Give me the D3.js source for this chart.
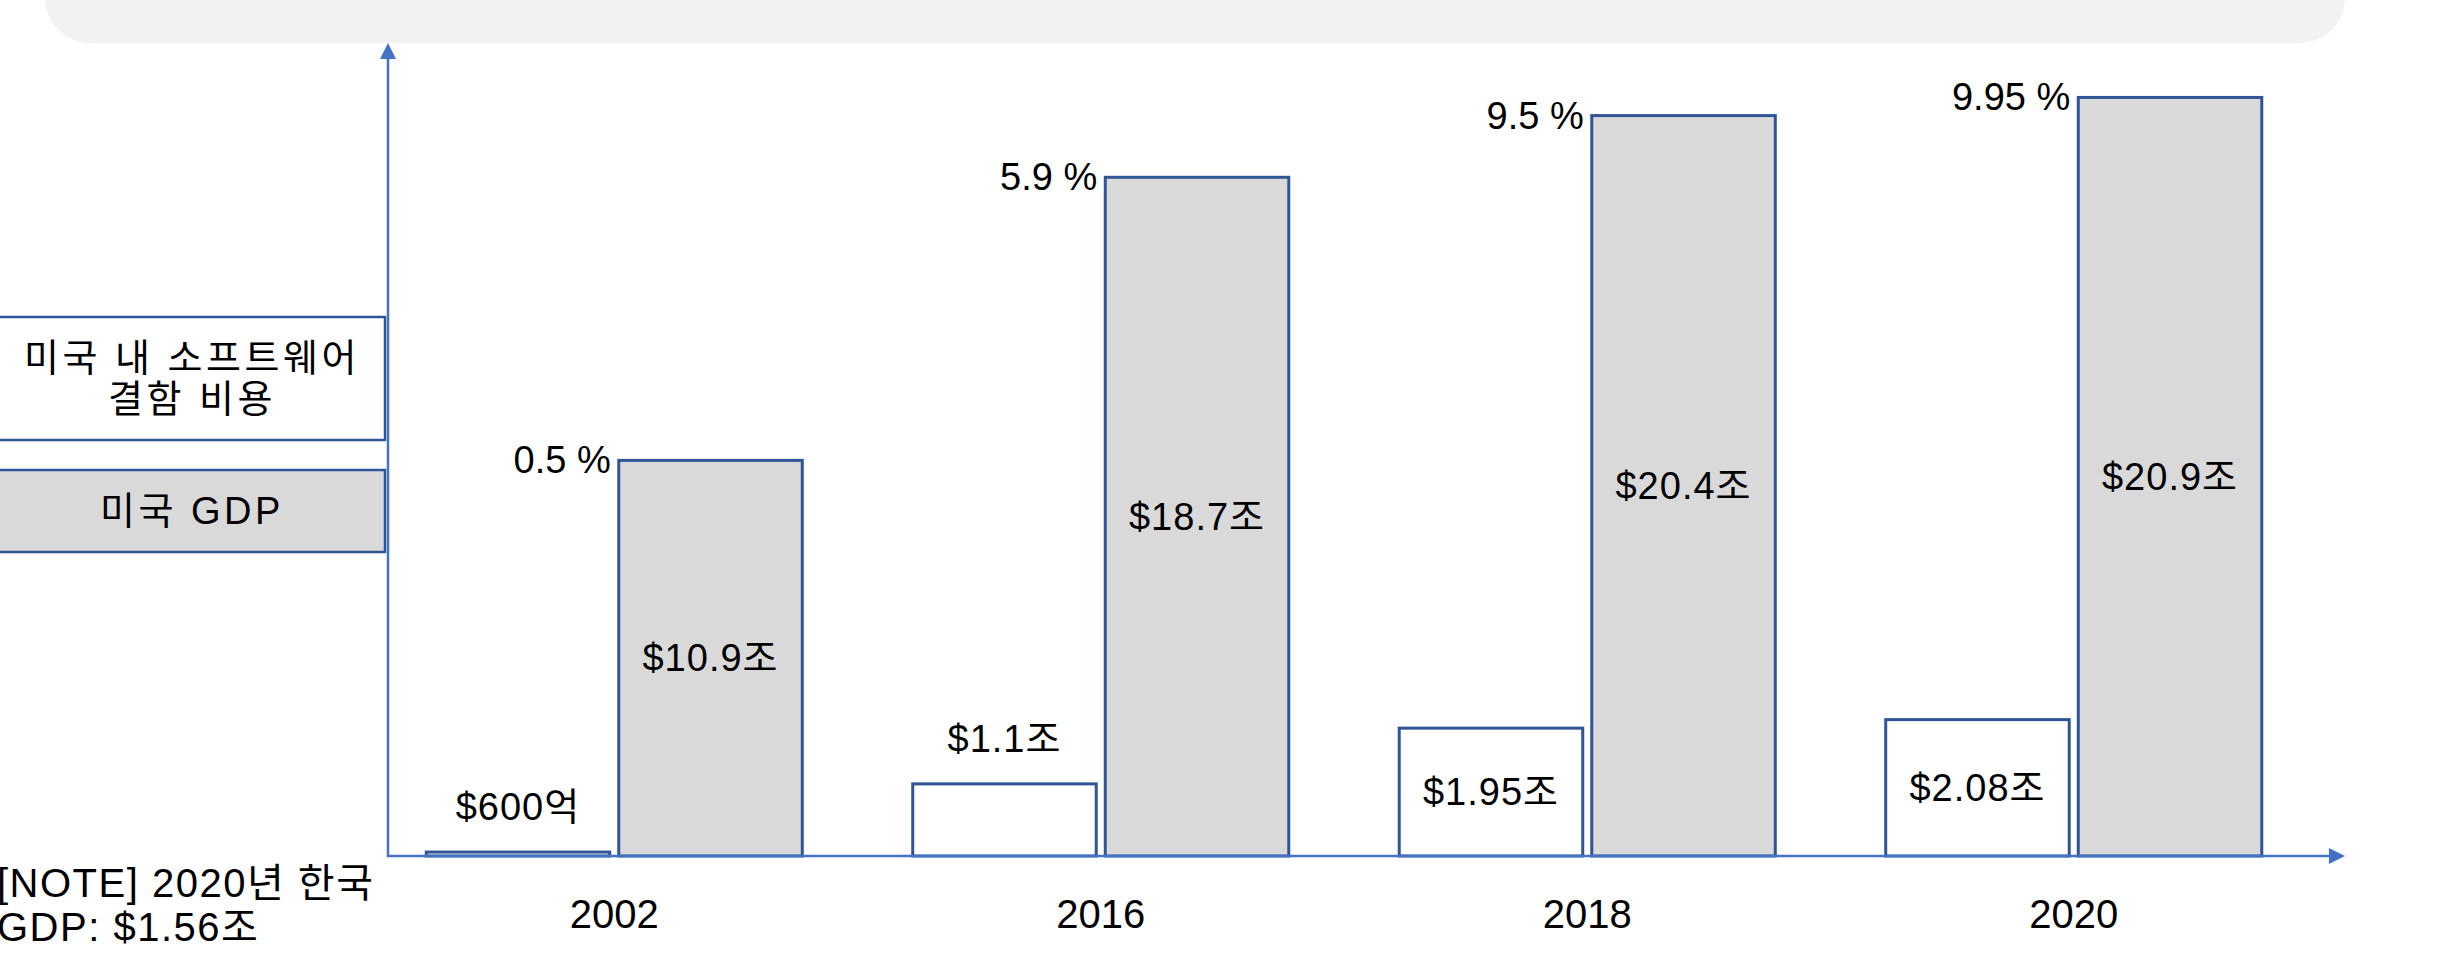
<!DOCTYPE html>
<html>
<head>
<meta charset="utf-8">
<title>미국 소프트웨어 결함 비용과 GDP</title>
<script src="https://cdn.jsdelivr.net/npm/d3@7"></script>
<style>
  html, body { margin: 0; padding: 0; background: #fff; }
  svg { display: block; }
  text { font-family: "Liberation Sans", "Noto Sans CJK KR", sans-serif; fill: #000; }
</style>
</head>
<body>
<svg class="js-graph"></svg>
<script>
/* <DATASET> */
var years = ['2002', '2016', '2018', '2020'];
// 미국 내 소프트웨어 결함 비용 (조 달러)
var defectCost = [0.06, 1.1, 1.95, 2.08];
// 미국 GDP (조 달러)
var usGdp = [10.9, 18.7, 20.4, 20.9];
var costLabels = ['$600억', '$1.1조', '$1.95조', '$2.08조'];
var gdpLabels = ['$10.9조', '$18.7조', '$20.4조', '$20.9조'];
var shareLabels = ['0.5 %', '5.9 %', '9.5 %', '9.95 %'];
var legendLabels = [['미국 내 소프트웨어', '결함 비용'], ['미국 GDP']];
var noteLines = ['[NOTE] 2020년 한국', 'GDP: $1.56조'];
/* </DATASET> */

(function drawChart(d3) {
  var width = 2446;
  var height = 965;
  var axisColor = '#4472C4';
  var barStroke = '#2F5597';
  var fontSize = 38;

  // plot frame
  var x0 = 388;     // y axis position
  var xEnd = 2345;  // tip of x axis arrow
  var yBase = 856;  // x axis position
  var yTop = 43;    // tip of y axis arrow

  var svg = d3.select('.js-graph')
    .attr('width', width)
    .attr('height', height);

  // grey banner at the top
  svg.append('rect')
    .attr('x', 45)
    .attr('y', -80)
    .attr('width', xEnd - 45)
    .attr('height', 80 + yTop)
    .attr('rx', 45)
    .attr('ry', 45)
    .attr('fill', '#F2F2F2');

  /* <SCALES> */
  var xScale = d3.scaleBand()
    .domain(years)
    .range([371, 2317])
    .paddingInner(0.227)
    .paddingOuter(0.1135);

  var xInner = d3.scaleBand()
    .domain(['cost', 'gdp'])
    .range([0, xScale.bandwidth()])
    .paddingInner(0.047);

  var yGdp = d3.scaleLinear()
    .domain([0, 22.4])
    .range([yBase, yTop]);

  var yCost = d3.scaleLinear()
    .domain([0, 12.4])
    .range([yBase, yTop]);
  /* </SCALES> */

  var rows = years.map(function toRow(year, i) {
    return {
      year: year,
      cost: defectCost[i],
      gdp: usGdp[i],
      costLabel: costLabels[i],
      gdpLabel: gdpLabels[i],
      share: shareLabels[i]
    };
  });

  /* <BARS> */
  var groups = svg.append('g')
    .selectAll('g')
    .data(rows)
    .enter()
    .append('g')
    .attr('transform', function (d) { return 'translate(' + xScale(d.year) + ',0)'; });

  groups.append('rect')
    .attr('x', xInner('cost'))
    .attr('y', function (d) { return yCost(d.cost); })
    .attr('width', xInner.bandwidth())
    .attr('height', function (d) { return yBase - yCost(d.cost); })
    .attr('fill', '#FFFFFF')
    .attr('stroke', barStroke)
    .attr('stroke-width', 3);

  groups.append('rect')
    .attr('x', xInner('gdp'))
    .attr('y', function (d) { return yGdp(d.gdp); })
    .attr('width', xInner.bandwidth())
    .attr('height', function (d) { return yBase - yGdp(d.gdp); })
    .attr('fill', '#D9D9D9')
    .attr('stroke', barStroke)
    .attr('stroke-width', 3);

  // cost labels: inside tall bars, above short ones
  groups.append('text')
    .attr('x', xInner('cost') + xInner.bandwidth() / 2)
    .attr('y', function (d) {
      var top = yCost(d.cost);
      return (yBase - top) < 90 ? top - 45 : (top + yBase) / 2;
    })
    .attr('text-anchor', 'middle')
    .attr('dominant-baseline', 'central')
    .style('font-size', fontSize + 'px')
    .style('letter-spacing', '1px')
    .text(function (d) { return d.costLabel; });

  groups.append('text')
    .attr('x', xInner('gdp') + xInner.bandwidth() / 2)
    .attr('y', function (d) { return (yGdp(d.gdp) + yBase) / 2; })
    .attr('text-anchor', 'middle')
    .attr('dominant-baseline', 'central')
    .style('font-size', fontSize + 'px')
    .style('letter-spacing', '1px')
    .text(function (d) { return d.gdpLabel; });

  // share of GDP, next to the top of the GDP bar
  groups.append('text')
    .attr('x', xInner('gdp') - 8)
    .attr('y', function (d) { return yGdp(d.gdp); })
    .attr('text-anchor', 'end')
    .attr('dominant-baseline', 'central')
    .style('font-size', fontSize + 'px')
    .text(function (d) { return d.share; });
  /* </BARS> */

  /* <AXES> */
  var xAxis = svg.append('g')
    .attr('transform', 'translate(0,' + yBase + ')')
    .call(d3.axisBottom(xScale).tickSize(0).tickPadding(44));
  xAxis.select('.domain').remove();
  xAxis.selectAll('text')
    .attr('fill', '#000')
    .style('font-size', '40px')
    .style('font-family', '"Liberation Sans", "Noto Sans CJK KR", sans-serif');

  var head = 16;
  svg.append('path')
    .attr('d', 'M' + x0 + ',' + (yTop + head) + 'V' + yBase + 'H' + (xEnd - head))
    .attr('fill', 'none')
    .attr('stroke', axisColor)
    .attr('stroke-width', 2.5);
  svg.append('path')
    .attr('d', 'M' + x0 + ',' + yTop + 'l' + (head / 2) + ',' + head + 'h' + (-head) + 'Z')
    .attr('fill', axisColor);
  svg.append('path')
    .attr('d', 'M' + xEnd + ',' + yBase + 'l' + (-head) + ',' + (head / 2) + 'v' + (-head) + 'Z')
    .attr('fill', axisColor);
  /* </AXES> */

  /* <LEGEND> */
  var legendBoxes = [
    { y: 317, h: 123, fill: '#FFFFFF' },
    { y: 470, h: 82, fill: '#D9D9D9' }
  ];
  legendBoxes.forEach(function drawLegendItem(box, i) {
    svg.append('rect')
      .attr('x', -5)
      .attr('y', box.y)
      .attr('width', 390)
      .attr('height', box.h)
      .attr('fill', box.fill)
      .attr('stroke', barStroke)
      .attr('stroke-width', 2.5);

    var lines = legendLabels[i];
    var lineGap = 41;
    var firstY = box.y + box.h / 2 - (lines.length - 1) * lineGap / 2;
    svg.append('text')
      .attr('text-anchor', 'middle')
      .style('font-size', fontSize + 'px')
      .style('letter-spacing', '3.5px')
      .selectAll('tspan')
      .data(lines)
      .enter()
      .append('tspan')
      .attr('x', 192)
      .attr('y', function (d, j) { return firstY + j * lineGap; })
      .attr('dominant-baseline', 'central')
      .text(function (d) { return d; });
  });
  /* </LEGEND> */

  // footnote
  svg.append('text')
    .style('font-size', '40px')
    .style('letter-spacing', '1.5px')
    .selectAll('tspan')
    .data(noteLines)
    .enter()
    .append('tspan')
    .attr('x', -3)
    .attr('y', function (d, i) { return 897 + i * 44; })
    .text(function (d) { return d; });
}(d3));
</script>
</body>
</html>
